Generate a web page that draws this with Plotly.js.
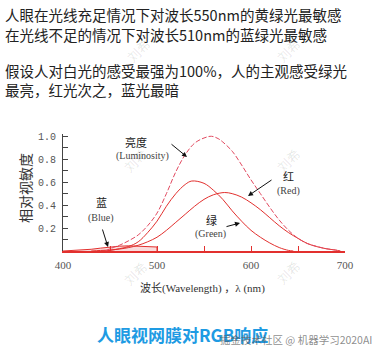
<!DOCTYPE html>
<html><head><meta charset="utf-8">
<script src="https://cdn.plot.ly/plotly-3.0.1.min.js"></script>
<style>html,body{margin:0;padding:0;background:#fff}#chart{width:376px;height:354px}</style>
</head><body><div id="chart"></div>
<script>
// ---- data ----
const lumWavelength = [445,450,460,470,480,490,500,510,520,530,540,550,558,565,570,580,590,600,610,620,630,640,650,660,670,680,690,695];
const luminosity    = [0,0.02,0.05,0.09,0.14,0.22,0.33,0.5,0.69,0.84,0.94,0.985,1.0,0.98,0.95,0.87,0.75,0.62,0.5,0.38,0.27,0.18,0.11,0.065,0.04,0.02,0.008,0];

const greenWavelength = [440,450,460,470,480,490,500,510,520,530,537,550,560,570,580,590,600,610,620,630,640,645];
const greenResponse   = [0,0.005,0.02,0.04,0.08,0.16,0.26,0.39,0.5,0.58,0.61,0.59,0.53,0.45,0.35,0.26,0.18,0.12,0.07,0.03,0.005,0];

const redWavelength = [430,440,450,460,470,480,490,500,510,520,530,540,550,560,572,580,590,600,610,620,630,640,650,660,670,680,690,695];
const redResponse   = [0,0.005,0.009,0.017,0.03,0.05,0.08,0.12,0.18,0.25,0.32,0.39,0.45,0.49,0.51,0.5,0.47,0.42,0.36,0.29,0.22,0.16,0.11,0.065,0.038,0.02,0.008,0];

const blueWavelength = [400,410,420,430,440,450,460,470,480,490,500,500];
const blueResponse   = [0,0.003,0.008,0.015,0.025,0.035,0.042,0.045,0.042,0.038,0.035,0];

const xTickVals = [400,450,500,550,600,650,700];
const xTickText = ['400','','500','','600','','700'];
const yTickVals = [0.1,0.2,0.3,0.4,0.5,0.6,0.7,0.8,0.9,1.0];
const yTickText = ['','0.2','','0.4','','0.6','','0.8','','1.0'];

const titleLines = ['人眼在光线充足情况下对波长550nm的黄绿光最敏感','在光线不足的情况下对波长510nm的蓝绿光最敏感','假设人对白光的感受最强为100%，人的主观感受绿光','最亮，红光次之，蓝光最暗'];

// ---- layout geometry ----
const FIGW = 376, FIGH = 354;
const M = {l:63, r:31, t:134, b:103};
const PW = FIGW - M.l - M.r, PH = FIGH - M.t - M.b;
const X = px => (px - M.l) / PW;
const Y = py => (FIGH - M.b - py) / PH;

const RED = '#e2302e';
const serif = 'Liberation Serif, Noto Sans CJK SC, serif';
const cjk = 'Noto Sans CJK SC, sans-serif';

const traces = [
  {x: blueWavelength, y: blueResponse, mode:'lines', line:{color:RED, width:1}, fill:'tozeroy', fillcolor:'rgba(240,140,140,0.3)', hoverinfo:'skip'},
  {x: greenWavelength, y: greenResponse, mode:'lines', line:{color:RED, width:1, shape:'spline'}, hoverinfo:'skip'},
  {x: redWavelength, y: redResponse, mode:'lines', line:{color:RED, width:1, shape:'spline'}, hoverinfo:'skip'},
  {x: lumWavelength, y: luminosity, mode:'lines', line:{color:'#e24a60', width:1, dash:'5px,2px', shape:'spline'}, hoverinfo:'skip'}
];

function txt(text, px, py, opts) {
  return Object.assign({xref:'paper', yref:'paper', x:X(px), y:Y(py), text:text, showarrow:false,
    xanchor:'center', yanchor:'middle', font:{family:serif, size:11, color:'#222'}}, opts||{});
}
function arrow(hx, hy, tx, ty) {
  return {xref:'paper', yref:'paper', x:X(hx), y:Y(hy), ax:tx-hx, ay:ty-hy, text:'', showarrow:true,
    arrowhead:2, arrowsize:1, arrowwidth:1, arrowcolor:'#111'};
}

const annotations = [
  txt(titleLines[0], 3, 14, {xanchor:'left', font:{family:cjk, size:14.5, color:'#222'}}),
  txt(titleLines[1], 3, 35, {xanchor:'left', font:{family:cjk, size:14.5, color:'#222'}}),
  txt(titleLines[2], 3, 70, {xanchor:'left', font:{family:cjk, size:14.5, color:'#222'}}),
  txt(titleLines[3], 3, 89, {xanchor:'left', font:{family:cjk, size:14.5, color:'#222'}}),
  txt('相对视敏度', 26, 188, {textangle:-90, font:{family:serif, size:14, color:'#333'}}),
  txt('波长(Wavelength) ，λ (nm)', 202, 288, {font:{family:serif, size:11, color:'#333'}}),
  txt('亮度', 136, 142, {font:{family:serif, size:11, color:'#222'}}),
  txt('(Luminosity)', 142, 156, {font:{family:serif, size:10, color:'#444'}}),
  txt('蓝', 101, 203, {font:{family:serif, size:11, color:'#222'}}),
  txt('(Blue)', 101, 218, {font:{family:serif, size:10, color:'#444'}}),
  txt('红', 288, 177, {font:{family:serif, size:11, color:'#222'}}),
  txt('(Red)', 288, 191, {font:{family:serif, size:10, color:'#444'}}),
  txt('绿', 211, 220, {font:{family:serif, size:11, color:'#222'}}),
  txt('(Green)', 210, 234, {font:{family:serif, size:10, color:'#444'}}),
  arrow(187, 157, 170, 143),
  arrow(108, 247, 102, 228),
  arrow(248, 196, 273, 179),
  arrow(240, 223, 225, 227),
  txt('人眼视网膜对RGB响应', 182, 334, {font:{family:cjk, size:17, color:'#1e9be3', weight:'bold'}}),
  txt('掘金技术社区 @ 机器学习2020AI', 296, 339, {font:{family:cjk, size:10.5, color:'rgba(90,90,90,0.7)'}}),
  txt('刘希', 138, 50, {textangle:-45, font:{family:cjk, size:13, color:'rgba(0,0,0,0.1)'}}),
  txt('刘希', 288, 50, {textangle:-45, font:{family:cjk, size:13, color:'rgba(0,0,0,0.1)'}}),
  txt('刘希', 135, 160, {textangle:-45, font:{family:cjk, size:13, color:'rgba(0,0,0,0.1)'}}),
  txt('刘希', 288, 160, {textangle:-45, font:{family:cjk, size:13, color:'rgba(0,0,0,0.1)'}}),
  txt('刘希', 135, 273, {textangle:-45, font:{family:cjk, size:13, color:'rgba(0,0,0,0.1)'}}),
  txt('刘希', 288, 272, {textangle:-45, font:{family:cjk, size:13, color:'rgba(0,0,0,0.1)'}})
];

const layout = {
  width:FIGW, height:FIGH, margin:M, showlegend:false,
  paper_bgcolor:'#fff', plot_bgcolor:'#fff',
  xaxis:{range:[400,700], showline:true, linecolor:RED, linewidth:2, ticks:'inside', ticklen:5, tickwidth:1, tickcolor:RED,
    tickvals:xTickVals, ticktext:xTickText, showgrid:false, zeroline:false, ticklabelstandoff:3,
    tickfont:{family:serif, size:11, color:'#555'}},
  yaxis:{range:[0,1.02], showline:true, linecolor:'#444', linewidth:1, ticks:'inside', ticklen:5, tickwidth:1, tickcolor:'#444',
    tickvals:yTickVals, ticktext:yTickText, showgrid:false, zeroline:false, ticklabelstandoff:4,
    tickfont:{family:'Liberation Mono, monospace', size:10, color:'#555'}},
  annotations:annotations
};

Plotly.newPlot('chart', traces, layout, {staticPlot:true, displayModeBar:false});
</script></body></html>
